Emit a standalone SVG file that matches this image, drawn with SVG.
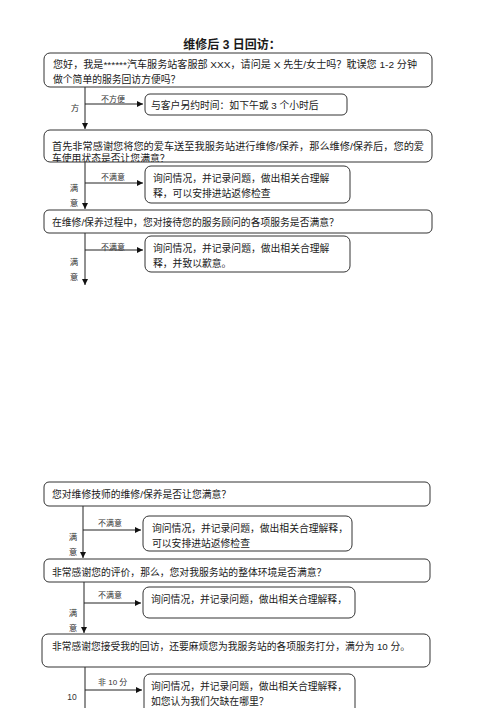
<svg xmlns="http://www.w3.org/2000/svg" width="500" height="708" viewBox="0 0 500 708">
<style>
  text { font-family: "Liberation Sans", "Noto Sans CJK SC", sans-serif; fill: #1a1a1a; }
  .t { font-size: 9.8px; }
  .lbl { font-size: 8px; fill: #333; }
  .side { font-size: 8.5px; fill: #333; text-anchor: middle; }
  .title { font-size: 12px; font-weight: bold; text-anchor: middle; }
  .box { fill: #fff; stroke: #333; stroke-width: 1; }
  .ln { stroke: #222; stroke-width: 1; fill: none; }
</style>
<defs>
  <marker id="ah" viewBox="0 0 8 8" refX="8" refY="4" markerWidth="6" markerHeight="6" orient="auto" markerUnits="userSpaceOnUse">
    <path d="M0,0 L8,4 L0,8 z" fill="#111"/>
  </marker>
  <clipPath id="c2"><rect x="44" y="130" width="388" height="32"/></clipPath>
</defs>
<rect width="500" height="708" fill="#fff"/>

<text class="title" x="232" y="49">维修后 3 日回访：</text>

<g id="connectors">
  <line class="ln" x1="85" y1="87" x2="85" y2="129" marker-end="url(#ah)"/>
  <line class="ln" x1="85" y1="104" x2="143" y2="104" marker-end="url(#ah)"/>
  <line class="ln" x1="85" y1="162" x2="85" y2="209" marker-end="url(#ah)"/>
  <line class="ln" x1="85" y1="183" x2="143" y2="183" marker-end="url(#ah)"/>
  <line class="ln" x1="85" y1="233" x2="85" y2="285" marker-end="url(#ah)"/>
  <line class="ln" x1="85" y1="250" x2="143" y2="250" marker-end="url(#ah)"/>
  <line class="ln" x1="83" y1="506" x2="83" y2="558" marker-end="url(#ah)"/>
  <line class="ln" x1="83" y1="530" x2="141" y2="530" marker-end="url(#ah)"/>
  <line class="ln" x1="84" y1="582" x2="84" y2="633" marker-end="url(#ah)"/>
  <line class="ln" x1="84" y1="603" x2="141" y2="603" marker-end="url(#ah)"/>
  <line class="ln" x1="85" y1="667" x2="85" y2="708"/>
  <line class="ln" x1="85" y1="690" x2="142" y2="690" marker-end="url(#ah)"/>
</g>

<g id="labels">
  <text class="lbl" x="101" y="102">不方便</text>
  <text class="side" x="75" y="111">方</text>
  <text class="lbl" x="101" y="180">不满意</text>
  <text class="side" x="74" y="191">满</text>
  <text class="side" x="74" y="206">意</text>
  <text class="lbl" x="101" y="250">不满意</text>
  <text class="side" x="74" y="265">满</text>
  <text class="side" x="74" y="280">意</text>
  <text class="lbl" x="98" y="526">不满意</text>
  <text class="side" x="73" y="540">满</text>
  <text class="side" x="73" y="555">意</text>
  <text class="lbl" x="98" y="598">不满意</text>
  <text class="side" x="73" y="616">满</text>
  <text class="side" x="73" y="631">意</text>
  <text class="lbl" x="98" y="685">非 10 分</text>
  <text class="side" x="72" y="700">10</text>
</g>

<g id="n1">
  <rect class="box" x="44" y="53" width="388" height="34" rx="6"/>
  <text class="t" x="53" y="68" textLength="364" lengthAdjust="spacingAndGlyphs">您好，我是******汽车服务站客服部 XXX，请问是 X 先生/女士吗？耽误您 1-2 分钟</text>
  <text class="t" x="53" y="83">做个简单的服务回访方便吗？</text>
</g>
<g id="n1b">
  <rect class="box" x="145" y="94" width="202" height="21" rx="5"/>
  <text class="t" x="151" y="109">与客户另约时间：如下午或 3 个小时后</text>
</g>

<g id="n2">
  <rect class="box" x="44" y="130" width="388" height="32" rx="6"/>
  <text class="t" x="52" y="150" textLength="372" lengthAdjust="spacingAndGlyphs">首先非常感谢您将您的爱车送至我服务站进行维修/保养，那么维修/保养后，您的爱</text>
  <text class="t" x="52" y="162" clip-path="url(#c2)">车使用状态是否让您满意？</text>
</g>
<g id="n2b">
  <rect class="box" x="145" y="166" width="205" height="37" rx="6"/>
  <text class="t" x="153" y="182">询问情况，并记录问题，做出相关合理解</text>
  <text class="t" x="153" y="197">释，可以安排进站返修检查</text>
</g>

<g id="n3">
  <rect class="box" x="44" y="210" width="388" height="23" rx="5"/>
  <text class="t" x="52" y="226">在维修/保养过程中，您对接待您的服务顾问的各项服务是否满意？</text>
</g>
<g id="n3b">
  <rect class="box" x="145" y="236" width="205" height="36" rx="6"/>
  <text class="t" x="153" y="252">询问情况，并记录问题，做出相关合理解</text>
  <text class="t" x="153" y="267">释，并致以歉意。</text>
</g>

<g id="n4">
  <rect class="box" x="44" y="482" width="386" height="24" rx="5"/>
  <text class="t" x="52" y="498">您对维修技师的维修/保养是否让您满意？</text>
</g>
<g id="n4b">
  <rect class="box" x="143" y="516" width="209" height="35" rx="6"/>
  <text class="t" x="152" y="532">询问情况，并记录问题，做出相关合理解释，</text>
  <text class="t" x="152" y="547">可以安排进站返修检查</text>
</g>

<g id="n5">
  <rect class="box" x="44" y="559" width="386" height="23" rx="5"/>
  <text class="t" x="52" y="576">非常感谢您的评价，那么，您对我服务站的整体环境是否满意？</text>
</g>
<g id="n5b">
  <rect class="box" x="143" y="587" width="212" height="31" rx="6"/>
  <text class="t" x="151" y="603">询问情况，并记录问题，做出相关合理解释，</text>
</g>

<g id="n6">
  <rect class="box" x="42" y="634" width="388" height="33" rx="6"/>
  <text class="t" x="52" y="650" textLength="358" lengthAdjust="spacingAndGlyphs">非常感谢您接受我的回访，还要麻烦您为我服务站的各项服务打分，满分为 10 分。</text>
</g>
<g id="n6b">
  <rect class="box" x="144" y="674" width="211" height="40" rx="6"/>
  <text class="t" x="151" y="690">询问情况，并记录问题，做出相关合理解释，</text>
  <text class="t" x="151" y="705">如您认为我们欠缺在哪里？</text>
</g>
</svg>
